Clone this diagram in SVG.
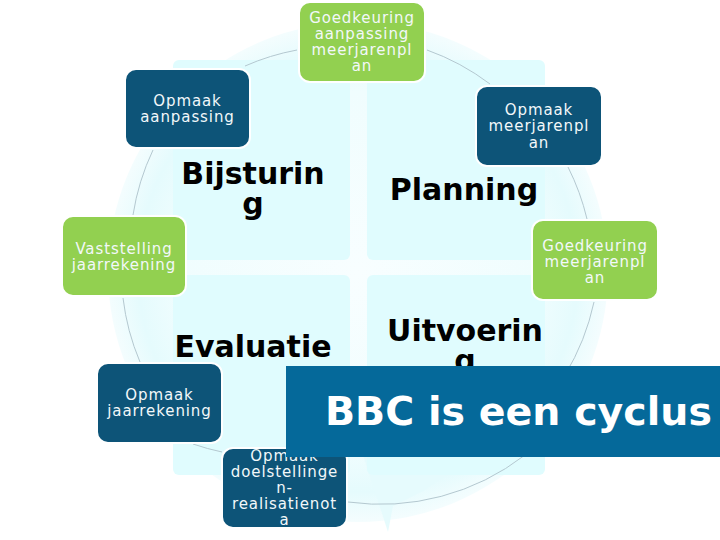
<svg xmlns="http://www.w3.org/2000/svg" width="720" height="540" viewBox="0 0 720 540">
<defs>
<radialGradient id="ringGrad" cx="358" cy="272" r="250" gradientUnits="userSpaceOnUse">
<stop offset="0" stop-color="#f8feff"/>
<stop offset="0.72" stop-color="#f0fdfe"/>
<stop offset="0.88" stop-color="#e5fbfd"/>
<stop offset="1" stop-color="#f4fdfe"/>
</radialGradient>
<style>
.quad{fill:#e0fcfe;}
.big{font-family:"DejaVu Sans",Verdana,sans-serif;font-weight:bold;font-size:30px;fill:#000;text-anchor:middle;}
.node rect{stroke:#ffffff;stroke-width:2;}
.green rect{fill:#92d050;}
.blue rect{fill:#0d5478;}
.node text{font-family:"DejaVu Sans",Verdana,sans-serif;font-size:15px;letter-spacing:0.9px;fill:#f2f8fa;text-anchor:middle;}
.conn path{fill:none;stroke:#b4c8d0;stroke-width:1;}
</style>
</defs>
<rect width="720" height="540" fill="#ffffff"/>
<g id="background">
<circle cx="358" cy="272" r="250" fill="url(#ringGrad)"/>
<polygon points="362,452 388,532 393,506 425,490 470,458" fill="#e6fbfd"/>
<rect class="quad" x="173" y="60" width="177" height="200" rx="6"/>
<rect class="quad" x="367" y="60" width="178" height="200" rx="6"/>
<rect class="quad" x="173" y="275" width="177" height="200" rx="6"/>
<rect class="quad" x="367" y="275" width="178" height="200" rx="6"/>
</g>
<g id="connectors" class="conn">
<path d="M297,50 A236,236 0 0 0 245,66"/>
<path d="M427,50 A236,236 0 0 1 490,84"/>
<path d="M568,167 A236,236 0 0 1 587,219"/>
<path d="M594,302 A236,236 0 0 1 565,375"/>
<path d="M525,455 A236,236 0 0 1 348,502"/>
<path d="M153,150 A236,236 0 0 0 133,215"/>
<path d="M123,298 A236,236 0 0 0 140,362"/>
<path d="M193,444 A236,236 0 0 0 222,452"/>
</g>
<g id="labels">
<text class="big" x="253" y="184">Bijsturin</text>
<text class="big" x="253" y="214">g</text>
<text class="big" x="464" y="200">Planning</text>
<text class="big" x="253" y="357">Evaluatie</text>
<text class="big" x="465" y="341">Uitvoerin</text>
<text class="big" x="465" y="371">g</text>
</g>
<g id="node-goedkeuring-aanpassing" class="node green">
<rect x="299" y="2" width="126" height="80" rx="11"/>
<text x="362" y="23">Goedkeuring</text>
<text x="362" y="39">aanpassing</text>
<text x="362" y="55">meerjarenpl</text>
<text x="362" y="71">an</text>
</g>
<g id="node-opmaak-aanpassing" class="node blue">
<rect x="125" y="69" width="125" height="79" rx="11"/>
<text x="187.5" y="106">Opmaak</text>
<text x="187.5" y="122">aanpassing</text>
</g>
<g id="node-opmaak-meerjarenplan" class="node blue">
<rect x="476" y="86" width="126" height="80" rx="11"/>
<text x="539" y="115">Opmaak</text>
<text x="539" y="131">meerjarenpl</text>
<text x="539" y="148">an</text>
</g>
<g id="node-goedkeuring-meerjarenplan" class="node green">
<rect x="532" y="220" width="126" height="80" rx="11"/>
<text x="595" y="251">Goedkeuring</text>
<text x="595" y="267">meerjarenpl</text>
<text x="595" y="283">an</text>
</g>
<g id="node-vaststelling-jaarrekening" class="node green">
<rect x="62" y="216" width="124" height="80" rx="11"/>
<text x="124" y="254">Vaststelling</text>
<text x="124" y="270">jaarrekening</text>
</g>
<g id="node-opmaak-jaarrekening" class="node blue">
<rect x="97" y="363" width="125" height="80" rx="11"/>
<text x="159.5" y="400">Opmaak</text>
<text x="159.5" y="416">jaarrekening</text>
</g>
<g id="node-opmaak-doelstellingen" class="node blue">
<rect x="222" y="448" width="125" height="80" rx="11"/>
<text x="284.5" y="461">Opmaak</text>
<text x="284.5" y="477">doelstellinge</text>
<text x="284.5" y="493">n-</text>
<text x="284.5" y="509">realisatienot</text>
<text x="284.5" y="525">a</text>
</g>
<g id="banner">
<rect x="286" y="366" width="434" height="91" fill="#05699a"/>
<text x="325" y="425" font-family="'DejaVu Sans',Verdana,sans-serif" font-weight="bold" font-size="39.5" fill="#ffffff">BBC is een cyclus</text>
</g>
</svg>
